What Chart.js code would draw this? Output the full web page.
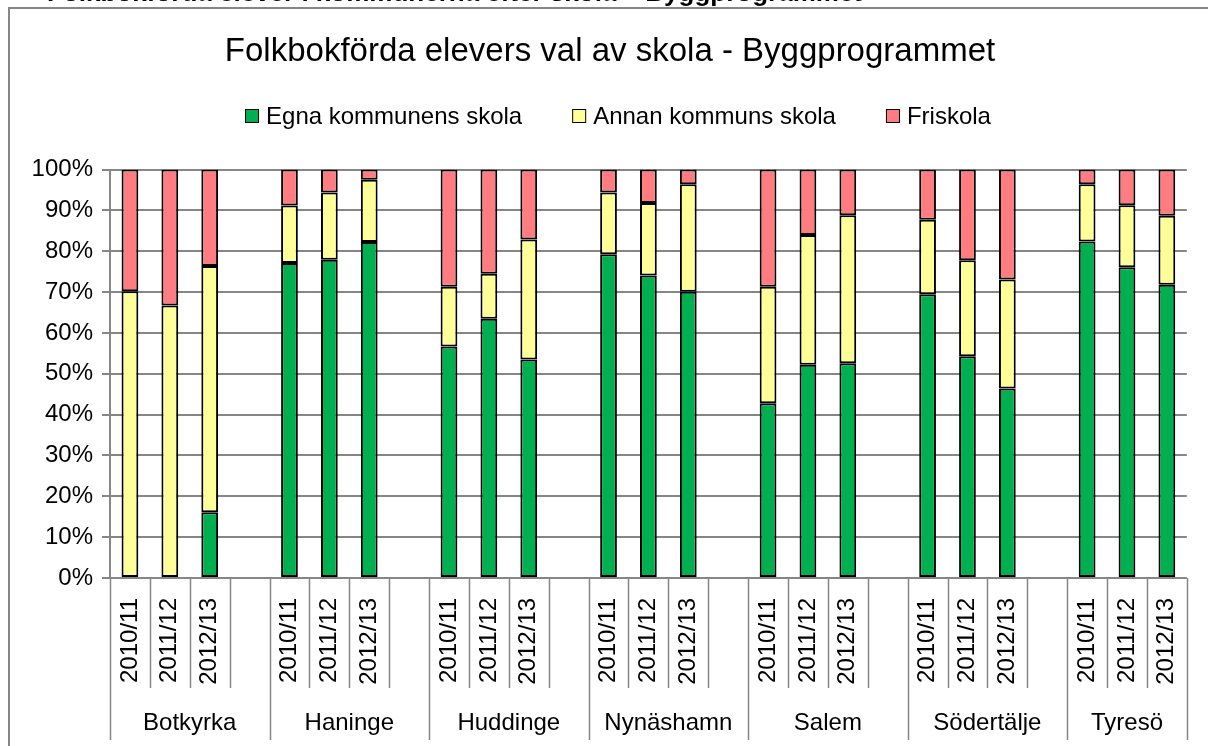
<!DOCTYPE html>
<html lang="sv">
<head>
<meta charset="utf-8">
<title>Byggprogrammet</title>
<script src="https://cdn.jsdelivr.net/npm/chart.js@4.4.1/dist/chart.umd.min.js"></script>
<style>
  html, body { margin: 0; padding: 0; background: #fff; }
  #ram { width: 1208px; height: 746px; position: relative; overflow: hidden; }
</style>
</head>
<body>
<div id="ram"><canvas id="grafSkolval" width="1208" height="746"></canvas></div>
<script>
const kommuner = ['Botkyrka', 'Haninge', 'Huddinge', 'Nynäshamn', 'Salem', 'Södertälje', 'Tyresö'];
const lasar = ['2010/11', '2011/12', '2012/13'];

// andel elever i procent, tre läsår per kommun (i samma ordning som kommuner)
const egnaKommunens = [0, 0, 16.1, 77.1, 77.9, 82.3, 56.7, 63.5, 53.5, 79.3, 74.1, 70.1, 42.8, 52.2, 52.6, 69.5, 54.3, 46.4, 82.4, 76.1, 71.8];
const annanKommuns = [70.2, 66.7, 60.3, 14.1, 16.5, 15.2, 14.6, 11.0, 29.4, 15.1, 17.7, 26.3, 28.5, 31.8, 36.2, 18.2, 23.5, 26.7, 14.0, 15.2, 16.9];
const friskola = [29.8, 33.3, 23.6, 8.8, 5.6, 2.5, 28.7, 25.5, 17.1, 5.6, 8.2, 3.6, 28.7, 16.0, 11.2, 12.3, 22.2, 26.9, 3.6, 8.7, 11.3];

const yTicks = [0, 10, 20, 30, 40, 50, 60, 70, 80, 90, 100];

const serier = [
    { namn: 'Egna kommunens skola', varden: egnaKommunens, farg: '#00B050' },
    { namn: 'Annan kommuns skola', varden: annanKommuns, farg: '#FFFF99' },
    { namn: 'Friskola', varden: friskola, farg: '#FF7C80' }
];

const FONT = '"Liberation Sans", Arial, sans-serif';
const GRA = '#868686';

// en tom kategori mellan varje kommun
const etiketter = [];
kommuner.forEach((k, i) => {
    lasar.forEach(l => etiketter.push(l));
    if (i < kommuner.length - 1) etiketter.push('');
});

function medLuckor(varden) {
    const ut = [];
    kommuner.forEach((k, i) => {
        lasar.forEach((l, j) => ut.push(varden[i * lasar.length + j]));
        if (i < kommuner.length - 1) ut.push(null);
    });
    return ut;
}

const ramPlugin = {
    id: 'ramOchEtiketter',
    afterDraw(chart) {
        const ctx = chart.ctx;
        const area = chart.chartArea;
        const xs = chart.scales.x;
        ctx.save();

        // avskuren rubrik ovanför diagrammet
        ctx.fillStyle = '#000';
        ctx.font = 'bold 26px ' + FONT;
        ctx.textAlign = 'right';
        ctx.textBaseline = 'alphabetic';
        ctx.fillText('Folkbokförda elever i kommunerna efter skola – Byggprogrammet', 862, 1);

        // ram
        ctx.strokeStyle = GRA;
        ctx.lineWidth = 2;
        ctx.beginPath();
        ctx.moveTo(9, 746);
        ctx.lineTo(9, 8);
        ctx.lineTo(1208, 8);
        ctx.stroke();

        // kategorigränser under x-axeln
        const n = etiketter.length;
        const steg = xs.getPixelForValue(1) - xs.getPixelForValue(0);
        const granser = [];
        for (let i = 0; i <= n; i++) {
            granser.push(i < n ? xs.getPixelForValue(i) - steg / 2 : xs.getPixelForValue(n - 1) + steg / 2);
        }
        ctx.lineWidth = 1.5;
        ctx.strokeStyle = GRA;
        granser.forEach((x, i) => {
            const grupp = i % 4 === 0 || i === n;
            const xx = Math.round(x) + 0.5;
            ctx.beginPath();
            ctx.moveTo(xx, area.bottom);
            ctx.lineTo(xx, grupp ? 740 : 688);
            ctx.stroke();
        });

        // kommunnamn
        ctx.fillStyle = '#000';
        ctx.font = '24px ' + FONT;
        ctx.textAlign = 'center';
        ctx.textBaseline = 'middle';
        kommuner.forEach((k, i) => {
            const x0 = granser[i * 4];
            const x1 = granser[Math.min(i * 4 + 4, n)];
            ctx.fillText(k, (x0 + x1) / 2, 723);
        });

        // förklaring
        ctx.font = '24px ' + FONT;
        ctx.textAlign = 'left';
        const ruta = 14, mellan = 7, avstand = 50;
        const bredder = serier.map(s => ruta + mellan + ctx.measureText(s.namn).width);
        const total = bredder.reduce((a, b) => a + b, 0) + avstand * (serier.length - 1);
        let x = 618 - total / 2;
        serier.forEach((s, i) => {
            ctx.fillStyle = s.farg;
            ctx.fillRect(x, 109, ruta, ruta);
            ctx.strokeStyle = '#000';
            ctx.lineWidth = 1;
            ctx.strokeRect(x + 0.5, 109.5, ruta - 1, ruta - 1);
            ctx.fillStyle = '#000';
            ctx.fillText(s.namn, x + ruta + mellan, 117);
            x += bredder[i] + avstand;
        });

        ctx.restore();
    }
};

const ctx = document.getElementById('grafSkolval').getContext('2d');
new Chart(ctx, {
    type: 'bar',
    data: {
        labels: etiketter,
        datasets: serier.map(s => ({
            label: s.namn,
            data: medLuckor(s.varden),
            backgroundColor: s.farg,
            borderColor: '#000',
            borderWidth: 2,
            borderSkipped: false,
            barPercentage: 0.42,
            categoryPercentage: 1.0
        }))
    },
    options: {
        responsive: false,
        animation: false,
        devicePixelRatio: 1,
        layout: { padding: { left: 30, right: 18, top: 0, bottom: 0 } },
        plugins: {
            legend: { display: false },
            tooltip: { enabled: false },
            title: {
                display: true,
                text: 'Folkbokförda elevers val av skola - Byggprogrammet',
                color: '#000',
                font: { family: FONT, size: 33, weight: 'normal' },
                padding: { top: 32, bottom: 98 }
            }
        },
        scales: {
            x: {
                stacked: true,
                grid: { display: false },
                border: { display: false },
                ticks: {
                    autoSkip: false,
                    maxRotation: 90,
                    minRotation: 90,
                    padding: 12,
                    color: '#000',
                    font: { family: FONT, size: 24 }
                },
                afterFit(scale) { scale.height = 168; }
            },
            y: {
                stacked: true,
                min: 0,
                max: 100,
                afterBuildTicks(scale) { scale.ticks = yTicks.map(v => ({ value: v })); },
                grid: { color: GRA, lineWidth: 2, tickLength: 8 },
                border: { color: GRA, width: 2 },
                ticks: {
                    padding: 9,
                    color: '#000',
                    font: { family: FONT, size: 24 },
                    callback: v => v + '%'
                },
                afterFit(scale) { scale.width = 80; }
            }
        }
    },
    plugins: [ramPlugin]
});
</script>
</body>
</html>
